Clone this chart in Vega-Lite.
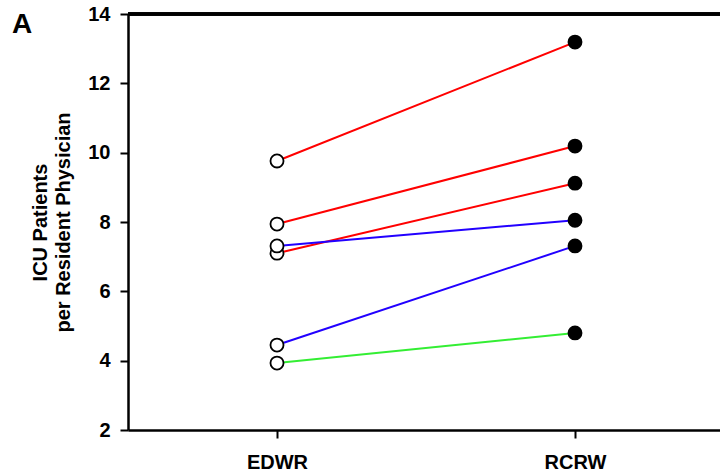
{
  "$schema": "https://vega.github.io/schema/vega-lite/v6.json",
  "width": 596,
  "height": 416,
  "autosize": "none",
  "padding": {"left": 128, "top": 14, "right": 0, "bottom": 45},
  "background": "white",
  "config": {"view": {"stroke": null}, "font": "Liberation Sans"},
  "title": {"text": "A", "anchor": "start", "frame": "group", "dx": -116, "dy": 67, "baseline": "bottom", "fontSize": 28, "fontWeight": "bold", "color": "black", "font": "Liberation Sans"},
  "data": {
    "values": [
      {"pair": 1, "series": "S1", "condition": "EDWR", "value": 9.76},
      {"pair": 1, "series": "S1", "condition": "RCRW", "value": 13.19},
      {"pair": 2, "series": "S1", "condition": "EDWR", "value": 7.94},
      {"pair": 2, "series": "S1", "condition": "RCRW", "value": 10.19},
      {"pair": 3, "series": "S1", "condition": "EDWR", "value": 7.1},
      {"pair": 3, "series": "S1", "condition": "RCRW", "value": 9.12},
      {"pair": 4, "series": "S2", "condition": "EDWR", "value": 7.31},
      {"pair": 4, "series": "S2", "condition": "RCRW", "value": 8.05},
      {"pair": 5, "series": "S2", "condition": "EDWR", "value": 4.45},
      {"pair": 5, "series": "S2", "condition": "RCRW", "value": 7.31},
      {"pair": 6, "series": "S3", "condition": "EDWR", "value": 3.93},
      {"pair": 6, "series": "S3", "condition": "RCRW", "value": 4.8}
    ]
  },
  "encoding": {
    "x": {"field": "condition", "type": "nominal", "scale": {"type": "point", "padding": 0.5},
      "axis": {"title": null, "labelAngle": 0, "labelFontSize": 20, "labelFontWeight": "bold", "labelColor": "black", "labelPadding": 14, "tickSize": 8, "tickWidth": 2, "tickColor": "black", "domainColor": "black", "domainWidth": 2.5, "grid": false}},
    "y": {"field": "value", "type": "quantitative", "scale": {"domain": [2, 14], "nice": false, "zero": false},
      "axis": {"title": ["ICU Patients", "per Resident Physician"], "values": [2, 4, 6, 8, 10, 12, 14], "titleFontSize": 20, "titleFontWeight": "bold", "titleColor": "black", "titleLineHeight": 23, "titlePadding": 14, "labelFontSize": 20, "labelFontWeight": "bold", "labelColor": "black", "labelPadding": 10, "tickSize": 8, "tickWidth": 2, "tickColor": "black", "domainColor": "black", "domainWidth": 2.5, "grid": false}}
  },
  "layer": [
    {"mark": {"type": "rule", "color": "black", "strokeWidth": 2.5}, "encoding": {"x": null, "y": {"datum": 14}}},
    {"mark": {"type": "line", "strokeWidth": 2}, "encoding": {"detail": {"field": "pair"}, "color": {"field": "series", "type": "nominal", "scale": {"domain": ["S1", "S2", "S3"], "range": ["#ff0000", "#2200ff", "#33ee33"]}, "legend": null}}},
    {"mark": {"type": "point", "shape": "circle", "size": 170, "strokeWidth": 1.8, "stroke": "black", "opacity": 1}, "encoding": {"fill": {"field": "condition", "type": "nominal", "scale": {"domain": ["EDWR", "RCRW"], "range": ["white", "black"]}, "legend": null}}}
  ]
}
